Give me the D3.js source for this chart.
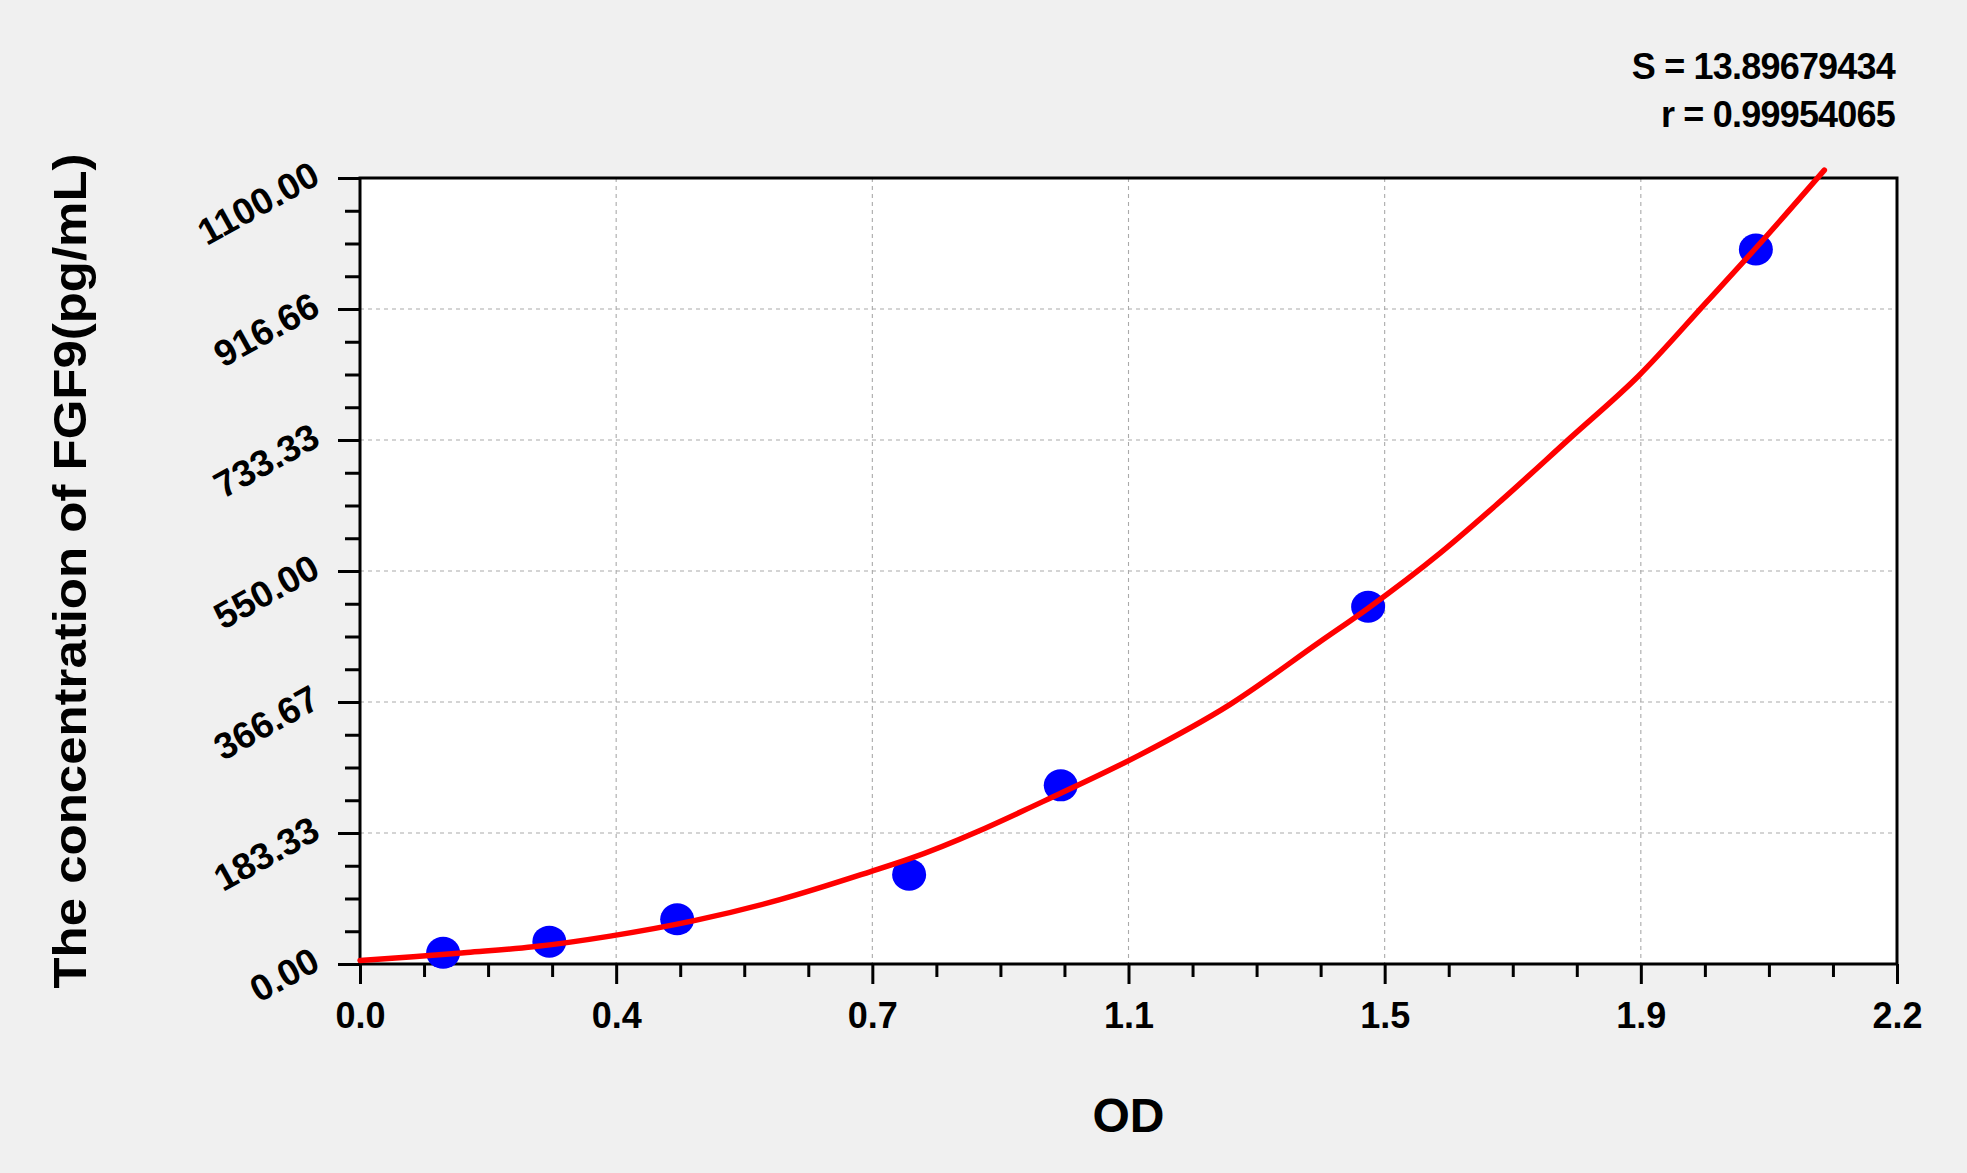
<!DOCTYPE html>
<html>
<head>
<meta charset="utf-8">
<script src="https://cdn.jsdelivr.net/npm/d3@7"></script>
<style>
  html, body { margin: 0; padding: 0; background: #f0f0f0; }
  svg { display: block; }
  text { font-family: "Liberation Sans", Arial, sans-serif; font-weight: bold; fill: #000; }
</style>
</head>
<body>
<svg id="chart" width="1967" height="1173"></svg>
<script>
// ---- data ----
const standardsOD   = [0.119, 0.271, 0.454, 0.786, 1.003, 1.443, 1.998];
const standardsConc = [15.63, 31.25, 62.5, 125, 250, 500, 1000];

const fitOD   = [0.000, 0.076, 0.153, 0.248, 0.358, 0.480, 0.601, 0.730, 0.786, 1.003, 1.117, 1.245, 1.374, 1.443, 1.546, 1.627, 1.732, 1.830, 1.928, 1.998, 2.096];
const fitConc = [5, 10, 16, 24, 39, 61, 90, 129, 147, 239, 293, 363, 451, 498, 575, 643, 736, 823, 927, 1002, 1111];

const xTickValues = [0, 2.2/6, 2*2.2/6, 3*2.2/6, 4*2.2/6, 5*2.2/6, 2.2];
const xTickLabels = ["0.0", "0.4", "0.7", "1.1", "1.5", "1.9", "2.2"];
const yTickValues = [0, 1100/6, 2*1100/6, 3*1100/6, 4*1100/6, 5*1100/6, 1100];
const yTickLabels = ["0.00", "183.33", "366.67", "550.00", "733.33", "916.66", "1100.00"];

const statsLines = ["S = 13.89679434", "r = 0.99954065"];
const xTitle = "OD";
const yTitle = "The concentration of FGF9(pg/mL)";

// ---- layout ----
const L = 360, R = 1897, T = 178, B = 964;
const svg = d3.select("#chart");
const x = d3.scaleLinear().domain([0, 2.2]).range([L, R]);
const y = d3.scaleLinear().domain([0, 1100]).range([B, T]);

svg.append("rect").attr("width", 1967).attr("height", 1173).attr("fill", "#f0f0f0");
svg.append("rect").attr("x", L).attr("y", T).attr("width", R - L).attr("height", B - T).attr("fill", "#fff");

// grid
const grid = svg.append("g").attr("stroke", "#aaaaaa").attr("stroke-width", 1.1).attr("stroke-dasharray", "4,4");
grid.selectAll("line.gx").data(xTickValues.slice(1, -1)).join("line")
  .attr("x1", d => x(d)).attr("x2", d => x(d)).attr("y1", T).attr("y2", B);
grid.selectAll("line.gy").data(yTickValues.slice(1, -1)).join("line")
  .attr("y1", d => y(d)).attr("y2", d => y(d)).attr("x1", L).attr("x2", R);

// minor tick values (4 subdivisions per major interval)
const xMinor = d3.range(0, 25).map(i => i * 2.2 / 24).filter((d, i) => i % 4 !== 0);
const yMinor = d3.range(0, 25).map(i => i * 1100 / 24).filter((d, i) => i % 4 !== 0);

// x axis
const gx = svg.append("g").attr("transform", `translate(0,${B})`)
  .call(d3.axisBottom(x).tickValues(xTickValues).tickFormat((d, i) => xTickLabels[i]).tickSizeInner(20).tickSizeOuter(0));
gx.select(".domain").remove();
gx.selectAll(".tick line").attr("stroke", "#000").attr("stroke-width", 3);
gx.selectAll(".tick text").attr("y", 64).attr("dy", null).attr("font-size", 36).attr("fill", "#000");

const gxm = svg.append("g").attr("transform", `translate(0,${B})`)
  .call(d3.axisBottom(x).tickValues(xMinor).tickFormat("").tickSizeInner(13).tickSizeOuter(0));
gxm.select(".domain").remove();
gxm.selectAll(".tick line").attr("stroke", "#000").attr("stroke-width", 3);

// y axis
const gy = svg.append("g").attr("transform", `translate(${L},0)`)
  .call(d3.axisLeft(y).tickValues(yTickValues).tickFormat((d, i) => yTickLabels[i]).tickSizeInner(22).tickSizeOuter(0));
gy.select(".domain").remove();
gy.selectAll(".tick line").attr("stroke", "#000").attr("stroke-width", 3);
gy.selectAll(".tick text")
  .attr("x", null).attr("dy", null)
  .attr("dominant-baseline", "central")
  .attr("text-anchor", "end")
  .attr("font-size", 37).attr("fill", "#000")
  .attr("transform", "translate(-44,-7) rotate(-29)");

const gym = svg.append("g").attr("transform", `translate(${L},0)`)
  .call(d3.axisLeft(y).tickValues(yMinor).tickFormat("").tickSizeInner(15).tickSizeOuter(0));
gym.select(".domain").remove();
gym.selectAll(".tick line").attr("stroke", "#000").attr("stroke-width", 3);

// border
svg.append("rect").attr("x", L).attr("y", T).attr("width", R - L).attr("height", B - T)
  .attr("fill", "none").attr("stroke", "#000").attr("stroke-width", 3);

// points
svg.append("g").selectAll("ellipse").data(standardsOD.map((d, i) => [d, standardsConc[i]])).join("ellipse")
  .attr("cx", d => x(d[0])).attr("cy", d => y(d[1])).attr("rx", 17).attr("ry", 16).attr("fill", "#0000ff");

// fitted curve
const line = d3.line().x(d => x(d[0])).y(d => y(d[1])).curve(d3.curveMonotoneX);
svg.append("path").datum(fitOD.map((d, i) => [d, fitConc[i]]))
  .attr("d", line).attr("fill", "none").attr("stroke", "#ff0000").attr("stroke-width", 5.5)
  .attr("stroke-linecap", "round").attr("stroke-linejoin", "round");

// stats text
svg.append("g").selectAll("text").data(statsLines).join("text")
  .attr("x", 1895).attr("y", (d, i) => 79 + i * 48)
  .attr("text-anchor", "end").attr("font-size", 36).attr("letter-spacing", -0.8).text(d => d);

// axis titles
svg.append("text").attr("x", (L + R) / 2).attr("y", 1132).attr("text-anchor", "middle")
  .attr("font-size", 48).text(xTitle);
svg.append("text").attr("transform", `translate(86,${(T + B) / 2}) rotate(-90)`)
  .attr("text-anchor", "middle").attr("font-size", 47)
  .attr("textLength", 835).attr("lengthAdjust", "spacingAndGlyphs")
  .text(yTitle);
</script>
</body>
</html>
